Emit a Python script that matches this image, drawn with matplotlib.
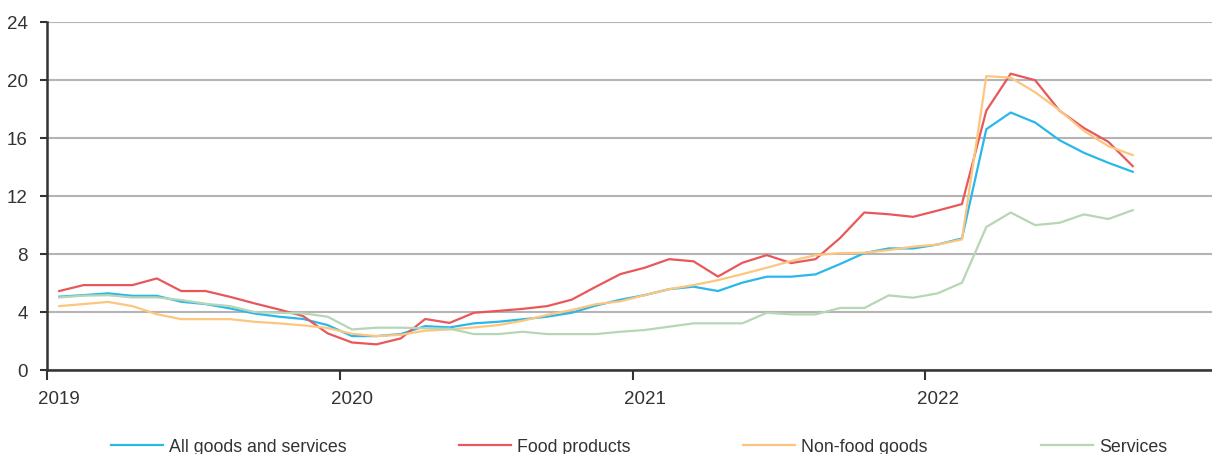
# Annual price growth (%) by component, monthly 2019-2022
import numpy as np
import matplotlib.pyplot as plt

plt.rcParams['font.family'] = ['Liberation Sans', 'DejaVu Sans']

years = ['2019', '2020', '2021', '2022']

all_goods = [5.06, 5.17, 5.29, 5.12, 5.12, 4.71, 4.55, 4.25, 3.9, 3.68, 3.52, 3.1,
             2.34, 2.34, 2.48, 3.03, 2.94, 3.22, 3.33, 3.5, 3.68, 3.95, 4.45, 4.85,
             5.17, 5.58, 5.75, 5.45, 6.03, 6.44, 6.44, 6.6, 7.31, 8.07, 8.39, 8.39,
             8.66, 9.08, 16.62, 17.77, 17.08, 15.86, 14.99, 14.3, 13.68]

food = [5.45, 5.86, 5.86, 5.86, 6.32, 5.45, 5.45, 5.05, 4.6, 4.18, 3.72, 2.53,
        1.9, 1.77, 2.18, 3.52, 3.25, 3.95, 4.08, 4.22, 4.41, 4.85, 5.75, 6.62,
        7.06, 7.65, 7.5, 6.45, 7.4, 7.93, 7.38, 7.65, 9.1, 10.87, 10.75, 10.57,
        11.0, 11.45, 17.9, 20.45, 20.0, 17.9, 16.7, 15.75, 14.07]

non_food = [4.41, 4.55, 4.7, 4.41, 3.85, 3.51, 3.51, 3.51, 3.33, 3.22, 3.08, 2.9,
            2.5, 2.34, 2.43, 2.71, 2.8, 2.94, 3.1, 3.4, 3.8, 4.14, 4.54, 4.74,
            5.17, 5.58, 5.86, 6.2, 6.62, 7.06, 7.52, 7.93, 8.07, 8.09, 8.28, 8.51,
            8.66, 9.01, 20.28, 20.18, 19.17, 17.93, 16.5, 15.45, 14.83]

services = [5.01, 5.13, 5.16, 5.01, 5.01, 4.83, 4.57, 4.41, 4.0, 3.95, 3.91, 3.68,
            2.8, 2.92, 2.92, 2.88, 2.85, 2.48, 2.48, 2.64, 2.48, 2.48, 2.48, 2.64,
            2.76, 2.99, 3.22, 3.22, 3.22, 3.95, 3.84, 3.84, 4.28, 4.28, 5.15, 4.99,
            5.29, 6.02, 9.87, 10.87, 10.0, 10.16, 10.74, 10.42, 11.03]

names = ['All goods and services', 'Food products', 'Non-food goods', 'Services']
colors = ['#2bb7ea', '#e8585b', '#fdc67f', '#b6d6b5']

# month centres, one unit per month
x = np.arange(len(all_goods)) + 0.5

fig = plt.figure(figsize=(12.12, 4.54), dpi=100)
ax = fig.add_axes([0.0388, 0.185, 0.9612, 0.766])

for series, name, c in zip([all_goods, food, non_food, services], names, colors):
    ax.plot(x, series, color=c, lw=1.6, label=name, zorder=3)

ax.set_ylim(0, 24)
ax.set_yticks(np.arange(0, 25, 4))
ax.yaxis.grid(True, color='#b4b4b4', lw=1.5, zorder=0)
ax.set_axisbelow(True)

ax.set_xlim(0, 47.75)
ax.set_xticks([0, 12, 24, 36])
ax.set_xticklabels([])
ax.set_xticks([0.5, 12.5, 24.5, 36.5], minor=True)
ax.set_xticklabels(years, minor=True)

ax.tick_params(axis='x', which='major', length=7, width=1.5, color='#333333')
ax.tick_params(axis='x', which='minor', length=0, pad=15, labelsize=13.5,
               labelcolor='#333333')
ax.tick_params(axis='y', length=5, width=1.5, color='#333333', pad=9,
               labelsize=13.5, labelcolor='#333333')

for side in ['top', 'right']:
    ax.spines[side].set_visible(False)
for side in ['left', 'bottom']:
    ax.spines[side].set_color('#333333')
    ax.spines[side].set_linewidth(1.8)
    ax.spines[side].set_zorder(4)

fig.legend(loc='center', bbox_to_anchor=(0.527, 0.015), ncol=4, frameon=False,
           fontsize=12.8, handlelength=2.92, handletextpad=0.34,
           columnspacing=6.35, labelcolor='#333333')

fig.savefig('out.png', dpi=100)
